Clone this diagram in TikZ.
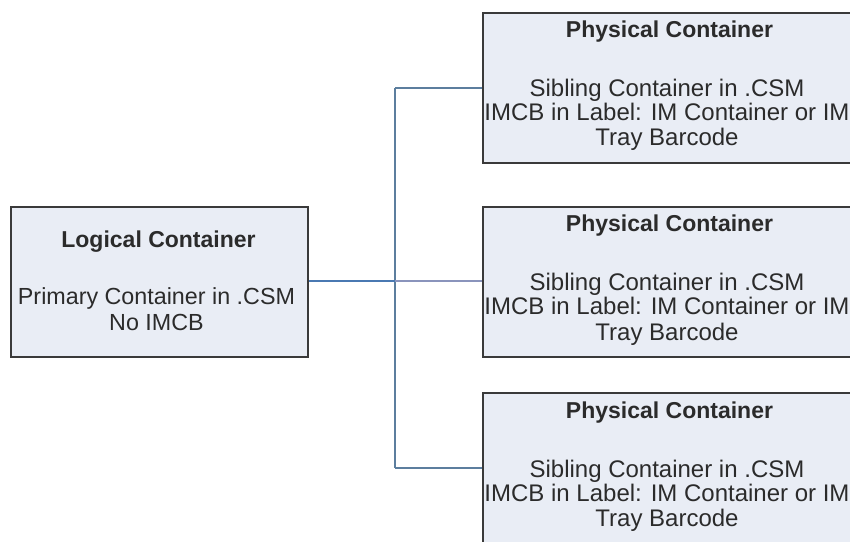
\documentclass[tikz,border=0pt]{standalone}
\usepackage{fontspec}
\setmainfont{Liberation Sans}
\definecolor{boxfill}{HTML}{E9EDF5}
\definecolor{boxline}{HTML}{3A3A3A}
\definecolor{txt}{HTML}{2B2B2B}
\definecolor{linkmain}{HTML}{4A79B2}
\definecolor{linkside}{HTML}{5C7E9E}
\definecolor{linklight}{HTML}{8A94BC}
\tikzset{
  container/.style={draw=boxline, line width=1.6bp, fill=boxfill, rectangle,
    minimum width=#1, minimum height=150bp, inner sep=0pt, anchor=north west},
  title/.style={anchor=base, text=txt, font=\fontsize{23bp}{27bp}\selectfont\bfseries, inner sep=0pt},
  body/.style={anchor=base, text=txt, font=\fontsize{23.3bp}{27bp}\selectfont, inner sep=0pt},
  widebody/.style={anchor=base, text=txt, font=\fontsize{24bp}{27bp}\selectfont, inner sep=0pt},
  link/.style={draw=linkside, line width=1.5bp},
}
\begin{document}
\begin{tikzpicture}[x=1bp,y=-1bp]
\useasboundingbox (0,0) rectangle (850,542);

% logical container
\node[container=297bp] (logical) at (10,206) {};
\node[title] (logicalT) at (158.5,248) {Logical Container};
\node[body] (logicalA) at (156.5,305) {Primary Container in .CSM};
\node[body] (logicalB) at (156.5,331) {No IMCB};

% physical containers
\node[container=375bp] (phys1) at (482,12) {};
\node[container=375bp] (phys2) at (482,206) {};
\node[container=375bp] (phys3) at (482,392) {};

\foreach \n/\t in {1/12, 2/206, 3/392}{
  \node[title]    (p\n T) at (669.5,\t+26) {Physical Container};
  \node[widebody] (p\n A) at (667,\t+85) {Sibling Container in .CSM};
  \node[widebody] (p\n B) at (667,\t+109) {IMCB in Label: IM Container or IM};
  \node[widebody] (p\n C) at (667,\t+134) {Tray Barcode};
}

% connectors
\coordinate (hub) at (395,281);
\coordinate (hubtop) at (395,88);
\coordinate (hubbot) at (395,468);
\draw[link] (hubtop) -- (hubbot);
\draw[link] (hubtop) -- (hubtop -| phys1.west);
\draw[link] (hubbot) -- (hubbot -| phys3.west);
\draw[draw=linklight, line width=2bp] (hub) -- (hub -| phys2.west);
\draw[draw=linkmain, line width=2.2bp] (hub -| logical.east) -- (hub);
\end{tikzpicture}
\end{document}
